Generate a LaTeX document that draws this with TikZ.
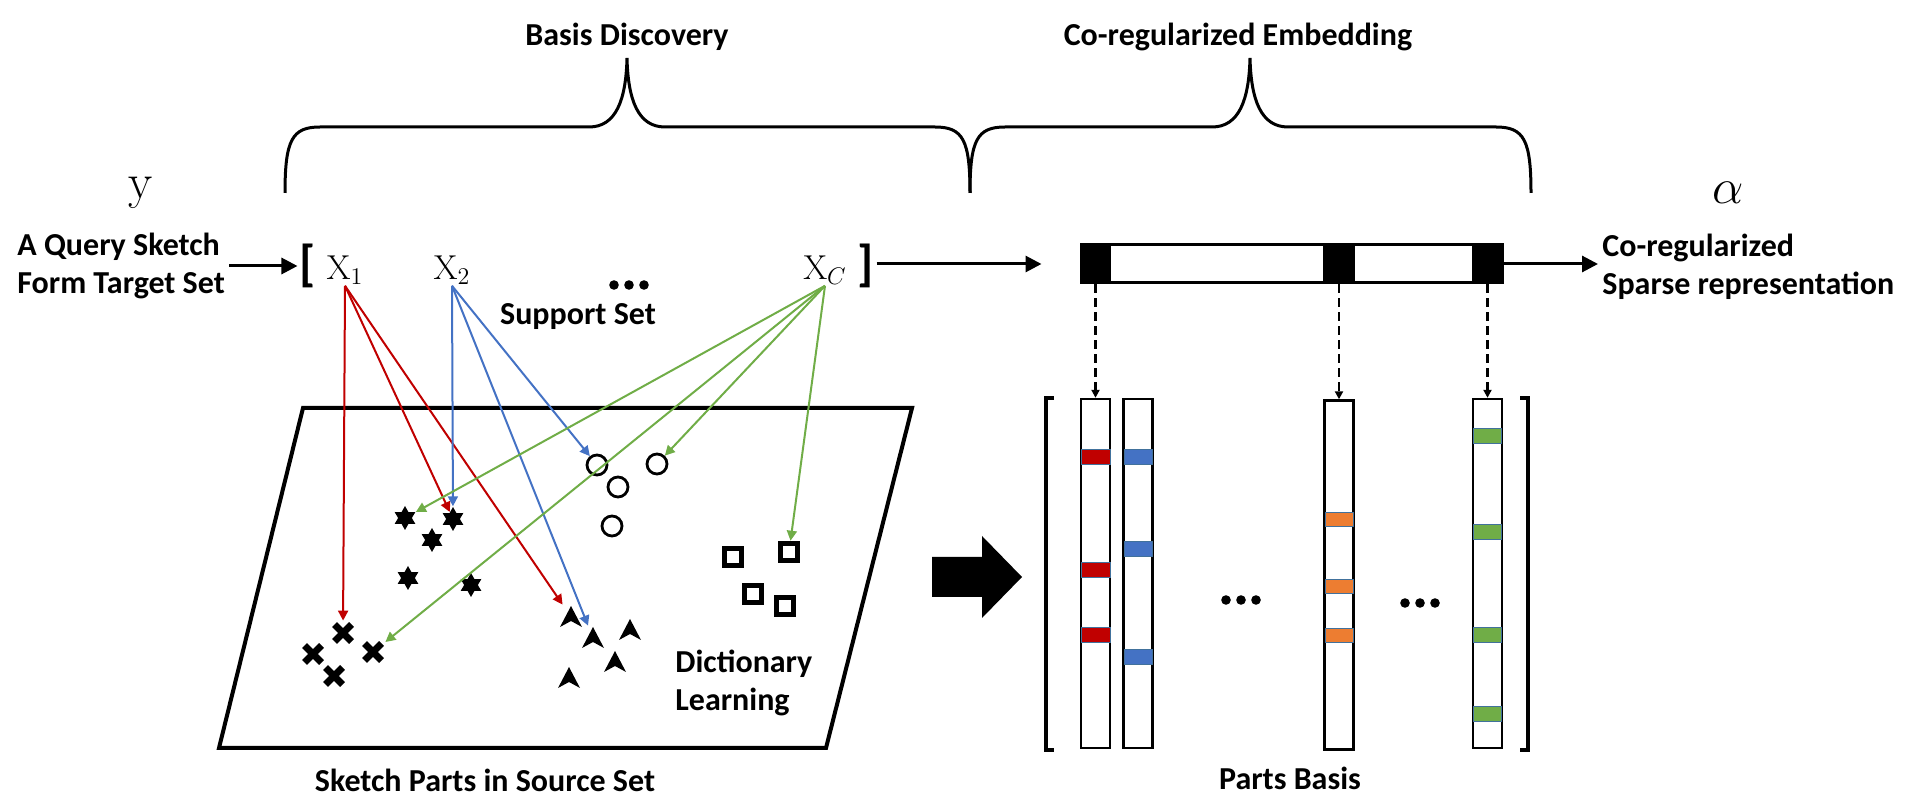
\documentclass[tikz,border=0pt]{standalone}
\usepackage[no-math]{fontspec}
\setmainfont{Carlito}
\usepackage{tikz}
\usetikzlibrary{positioning}
\usetikzlibrary{arrows.meta}
\usetikzlibrary{shapes.geometric}

\definecolor{rd}{HTML}{C00000}
\definecolor{bl}{HTML}{4472C4}
\definecolor{gn}{HTML}{70AD47}
\definecolor{og}{HTML}{ED7D31}
\definecolor{edge}{HTML}{41719C}

\tikzset{
  lbl/.style={font=\bfseries\fontsize{16}{19}\selectfont, align=left, inner sep=2pt},
  var/.style={font=\fontsize{16.5}{19}\selectfont, inner sep=0.5pt},
  big/.style={font=\fontsize{30}{32}\selectfont, inner sep=0},
  part/.style={inner sep=0, minimum size=12pt},
  star6/.style={star, star points=6, star point ratio=1.75, fill, inner sep=0, minimum size=12pt},
  ring/.style={circle, draw, line width=1.4pt, inner sep=0, minimum size=10pt},
  box/.style={rectangle, draw, line width=2.8pt, inner sep=0, minimum size=8.5pt},
  cross/.style={part, path picture={\draw[line width=3.5pt]
      (path picture bounding box.center) +(-8.5,-8.5) -- +(8.5,8.5)
      (path picture bounding box.center) +(-8.5,8.5) -- +(8.5,-8.5);}},
  dart/.style={part, path picture={\fill
      (path picture bounding box.center) +(0,-11) -- +(11,10) -- +(0,4) -- +(-11,10) -- cycle;}},
  link/.style={line width=1pt, -{Triangle[length=5pt,width=5pt]}},
  bigarrow/.style={line width=1.5pt, -{Triangle[length=8pt,width=8pt]}},
  dashlink/.style={line width=1.1pt, dash pattern=on 4.5pt off 2.5pt, -{Triangle[length=4pt,width=4pt]}},
  col/.style={draw, line width=1.2pt, minimum width=14.5pt, minimum height=174.5pt, inner sep=0},
  band/.style={draw=edge, line width=0.5pt},
}

\begin{document}
\begin{tikzpicture}[x=0.5pt, y=-0.5pt]
  \useasboundingbox (0,0) rectangle (1918,806);

  % braces on top
  \node[lbl] (discovery) at (627,37) {Basis Discovery};
  \node[lbl] (embedding) at (1238,37) {Co-regularized Embedding};
  \foreach \l/\m/\r in {285/627/970, 970/1250/1531}
    \draw[line width=1.5pt] (\l,193) .. controls (\l,140) and (\l+7,127) .. (\l+35,127)
      -- (\m-38,127) .. controls (\m-11,127) and (\m-1,100) .. (\m,58)
      .. controls (\m+1,100) and (\m+11,127) .. (\m+38,127)
      -- (\r-35,127) .. controls (\r-7,127) and (\r,140) .. (\r,193);

  % query and support set
  \node[big] (y) at (141,193) {$\mathrm{y}$};
  \node[lbl, anchor=west] (query) at (13,266) {A Query Sketch\\Form Target Set};
  \node[lbl, font=\bfseries\fontsize{25}{25}\selectfont, inner sep=1pt] (lb) at (308,266) {[};
  \node[lbl, font=\bfseries\fontsize{25}{25}\selectfont, inner sep=1pt] (rb) at (866,266) {]};
  \node[var] (x1) at (345,270) {$\mathrm{X}_1$};
  \node[var] (x2) at (452,270) {$\mathrm{X}_2$};
  \node[var] (xc) at (825,270) {$\mathrm{X}_C$};
  \foreach \d in {614,629,644} \fill (\d,285) circle (2.4pt);
  \node[lbl] (support) at (578,317) {Support Set};
  \draw[bigarrow] (query) -- (lb);

  % source set
  \draw[line width=2pt] (303,408) -- (912,408) -- (826,748) -- (219,748) -- cycle;
  \node[cross] (c1) at (343,633) {};
  \node[cross] (c2) at (313,654) {};
  \node[cross] (c3) at (373,652) {};
  \node[cross] (c4) at (334,676) {};
  \node[star6] (s1) at (405,518) {};
  \node[star6] (s2) at (453,519) {};
  \node[star6] (s3) at (432,540) {};
  \node[star6] (s4) at (408,578) {};
  \node[star6] (s5) at (471,585) {};
  \node[ring] (o1) at (597,465) {};
  \node[ring] (o2) at (657,464) {};
  \node[ring] (o3) at (618,487) {};
  \node[ring] (o4) at (612,526) {};
  \node[box] (q1) at (733,557) {};
  \node[box] (q2) at (789,552) {};
  \node[box] (q3) at (753,594) {};
  \node[box] (q4) at (785,606) {};
  \node[dart] (t1) at (571,617) {};
  \node[dart] (t2) at (593,638) {};
  \node[dart] (t3) at (630,630) {};
  \node[dart] (t4) at (615,662) {};
  \node[dart] (t5) at (569,678) {};
  \node[lbl, anchor=west] (dict) at (671,683) {Dictionary\\Learning};
  \node[lbl] (source) at (485,780) {Sketch Parts in Source Set};

  \draw[link, rd] (x1.south) -- (c1);
  \draw[link, rd] (x1.south) -- (s2);
  \draw[link, rd] (x1.south) -- (t1);
  \draw[link, bl] (x2.south) -- (s2);
  \draw[link, bl] (x2.south) -- (t2);
  \draw[link, bl] (x2.south) -- (o1);
  \draw[link, gn] (xc.south) -- (s1);
  \draw[link, gn] (xc.south) -- (c3);
  \draw[link, gn] (xc.south) -- (o2);
  \draw[link, gn] (xc.south) -- (q2);

  \fill (932,557) -- (982,557) -- (982,536) -- (1022,577) -- (982,618) -- (982,597) -- (932,597) -- cycle;

  % sparse code and parts basis
  \node[draw, line width=1.5pt, minimum width=210.5pt, minimum height=19pt, inner sep=0] (bar) at (1291.5,264) {};
  \node[big] (alpha) at (1728,193) {$\alpha$};
  \node[lbl, anchor=west] (sparse) at (1598,267) {Co-regularized\\Sparse representation};
  \draw[bigarrow, shorten >=19pt] (rb.east |- bar.west) -- (bar.west);
  \draw[bigarrow] (bar.east) -- (sparse.west |- bar.east);

  \node[col] (k1) at (1095.5,573.5) {};
  \node[col] (k2) at (1138,573.5) {};
  \node[col] (k3) at (1339,575) {};
  \node[col] (k4) at (1487.5,573.5) {};
  \foreach \k in {k1,k3,k4} {
    \fill (\k.west |- bar.north) rectangle (\k.east |- bar.south);
    \draw[dashlink] (\k |- bar.south) -- (\k.north);
  }
  \foreach \y in {450,563,628} \filldraw[band, fill=rd] (1081,\y) rectangle (1110,\y+15);
  \foreach \y in {450,542,650} \filldraw[band, fill=bl] (1124,\y) rectangle (1152,\y+15);
  \foreach \y in {513,580,629} \filldraw[band, fill=og] (1325,\y) rectangle (1353,\y+14);
  \foreach \y in {429,525,628,707} \filldraw[band, fill=gn] (1473,\y) rectangle (1501,\y+15);
  \foreach \d in {1226,1241,1256} \fill (\d,600) circle (2.4pt);
  \foreach \d in {1405,1420,1435} \fill (\d,603) circle (2.4pt);
  \draw[line width=2pt] (1054,398) -- (1046,398) -- (1046,750) -- (1054,750);
  \draw[line width=2pt] (1520,398) -- (1528,398) -- (1528,750) -- (1520,750);
  \node[lbl] (parts) at (1290,778) {Parts Basis};
\end{tikzpicture}
\end{document}
